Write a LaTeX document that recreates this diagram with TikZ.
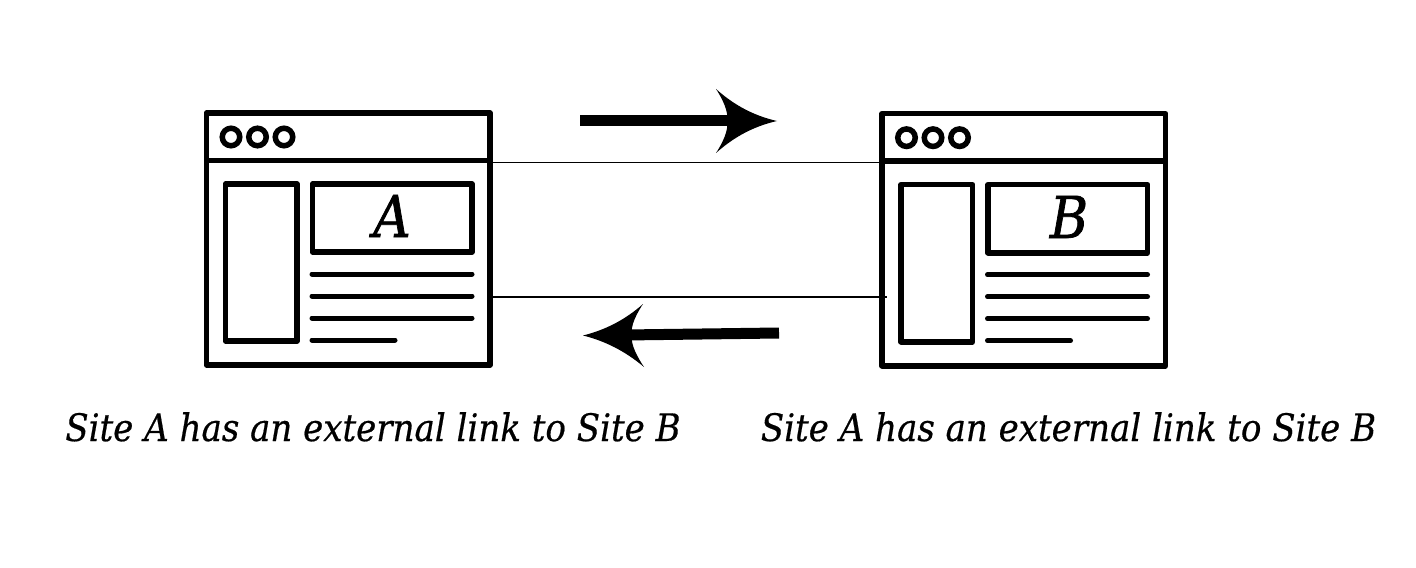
\documentclass[tikz,border=0pt]{standalone}
\usepackage{fontspec}
\setmainfont{DejaVu Serif Condensed}
\newfontfamily\capfont[FakeBold=0.5]{DejaVu Serif Condensed}
\newfontfamily\letfont[FakeBold=1.2]{DejaVu Serif Condensed}
\newcommand{\winfig}[3]{%
  \begin{scope}[shift={(#1,#2)}]
    \node[winframe,minimum width=283.5bp,minimum height=252bp,anchor=north west] (win#3) at (206.5,-113) {};
    \draw[stk] (win#3.west |- 0,-160.5) -- (win#3.east |- 0,-160.5);
    \node[dotc] (d1#3) at (231,-137) {};
    \node[dotc] (d2#3) at (257.5,-137) {};
    \node[dotc] (d3#3) at (284,-137) {};
    \node[winframe,minimum width=71.5bp,minimum height=157bp,anchor=north west] (side#3) at (225.5,-184) {};
    \node[winframe,minimum width=159.5bp,minimum height=68bp,anchor=north west] (main#3) at (312.5,-184) {};
    \draw[txtln] (312,-274) -- (472,-274);
    \draw[txtln] (312,-296) -- (472,-296);
    \draw[txtln] (312,-318) -- (472,-318);
    \draw[txtln] (312,-340) -- (395,-340);
  \end{scope}}
\tikzset{
  x=1bp,y=1bp,
  stk/.style={line width=5.6bp,draw=black},
  winframe/.style={draw=black,line width=5.6bp,inner sep=0pt,outer sep=0pt,rectangle,line join=round},
  dotc/.style={circle,draw=black,line width=5.5bp,minimum size=17.5bp,inner sep=0pt},
  txtln/.style={line width=5bp,line cap=round,draw=black},
  linkline/.style={line width=1.6bp,draw=black},
  shaft/.style={line width=11bp,draw=black},
  headfill/.style={fill=black,draw=none},
  caption/.style={font=\capfont\itshape\fontsize{38}{40}\selectfont,inner sep=0pt,anchor=base},
  letter/.style={font=\letfont\itshape\fontsize{58}{60}\selectfont,inner sep=0pt,anchor=base}
}
\begin{document}
\begin{tikzpicture}
\useasboundingbox (0,0) rectangle (1416,-568);
\winfig{0}{0}{A}
\winfig{675.5}{-0.7}{B}
\node[letter] (la) at (392,-237) {A};
\node[letter] (lb) at (1069,-238) {B};
\coordinate (t1) at (490,-162.5);
\coordinate (t2) at (882,-162.5);
\coordinate (b1) at (492,-297);
\coordinate (b2) at (887,-297);
\draw[linkline] (t1) -- (t2);
\draw[linkline] (b1) -- (b2);
% top arrow
\coordinate (ra) at (580,-120.5);
\coordinate (rb) at (735,-120.5);
\draw[shaft] (ra) -- (rb);
\fill[headfill] (777,-121) .. controls (755,-126) and (735,-136) .. (716,-153)
  .. controls (722,-144) and (729,-130) .. (727,-121)
  .. controls (729,-112) and (722,-98) .. (716,-89)
  .. controls (735,-106) and (755,-116) .. (777,-121) -- cycle;
% bottom arrow
\coordinate (la1) at (779,-333);
\coordinate (la2) at (625,-335);
\draw[shaft] (la1) -- (la2);
\fill[headfill] (583,-335.5) .. controls (605,-330) and (625,-320) .. (643,-304)
  .. controls (637,-313) and (630,-326) .. (632,-335)
  .. controls (630,-344) and (638,-358) .. (644,-367)
  .. controls (625,-351) and (605,-341) .. (583,-335.5) -- cycle;
\node[caption] (ca) at (373,-441) {Site A has an external link to Site B};
\node[caption] (cb) at (1068.5,-441) {Site A has an external link to Site B};
\end{tikzpicture}
\end{document}
